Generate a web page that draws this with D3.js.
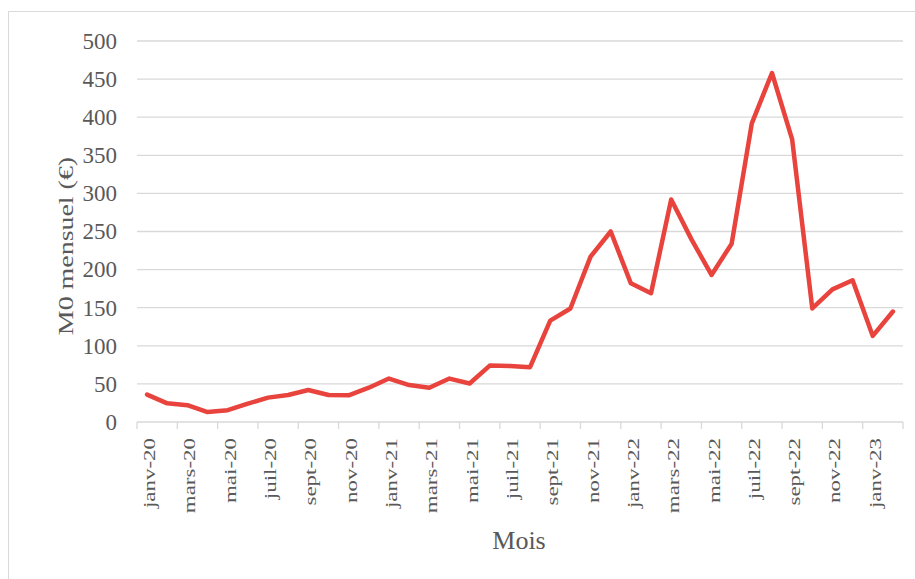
<!DOCTYPE html>
<html>
<head>
<meta charset="utf-8">
<script src="https://cdn.jsdelivr.net/npm/d3@7"></script>
<style>
  html, body { margin: 0; padding: 0; background: #fff; }
  svg { display: block; }
</style>
</head>
<body>
<div id="chart"></div>
<script>
// Données ///////////////////////////////////////////////////////////////////
const mois = [
  'janv-20','févr-20','mars-20','avr-20','mai-20','juin-20','juil-20','août-20','sept-20','oct-20','nov-20','déc-20',
  'janv-21','févr-21','mars-21','avr-21','mai-21','juin-21','juil-21','août-21','sept-21','oct-21','nov-21','déc-21',
  'janv-22','févr-22','mars-22','avr-22','mai-22','juin-22','juil-22','août-22','sept-22','oct-22','nov-22','déc-22',
  'janv-23','févr-23'
];
const m0_mensuel = [
  36, 24.5, 22, 13, 15.5, 24, 32, 35.5, 42, 35.5, 35, 45,
  57, 48.5, 45, 57, 50.5, 74, 73.5, 72, 133, 149, 217, 250,
  182, 169, 292, 240, 193, 234, 392, 458, 371, 149, 174, 186,
  113, 145
];
const y_ticks = [0, 50, 100, 150, 200, 250, 300, 350, 400, 450, 500];

const width = 915, height = 579;
const margin = { top: 41, right: 12, bottom: 157, left: 137 };

const svg = d3.select('#chart').append('svg')
  .attr('width', width)
  .attr('height', height);

// cadre du graphique
svg.append('rect')
  .attr('x', 8.5).attr('y', 11.5)
  .attr('width', width + 20).attr('height', height + 20)
  .attr('fill', 'none')
  .attr('stroke', '#d9d9d9')
  .attr('stroke-width', 1);

const x = d3.scaleBand()
  .domain(mois)
  .range([margin.left, width - margin.right])
  .paddingInner(0).paddingOuter(0);

const y = d3.scaleLinear()
  .domain([0, 500])
  .range([height - margin.bottom, margin.top]);

const grid = svg.append('g').attr('id', 'grille');
const axes = svg.append('g').attr('id', 'axes');
const serie = svg.append('g').attr('id', 'serie');
const titres = svg.append('g').attr('id', 'titres');

// Grille horizontale ////////////////////////////////////////////////////////
grid.selectAll('line')
  .data(y_ticks.filter(d => d > 0))
  .join('line')
  .attr('x1', x.range()[0])
  .attr('x2', x.range()[1])
  .attr('y1', d => y(d))
  .attr('y2', d => y(d))
  .attr('stroke', '#d9d9d9')
  .attr('stroke-width', 1.3);

// Axe Y /////////////////////////////////////////////////////////////////////
const yAxis = axes.append('g')
  .attr('transform', `translate(${margin.left},0)`)
  .call(d3.axisLeft(y).tickValues(y_ticks).tickSize(0).tickPadding(20));
yAxis.select('.domain').remove();
yAxis.selectAll('text')
  .attr('font-family', '"Liberation Serif", "Times New Roman", serif')
  .attr('font-size', 23)
  .attr('fill', '#595959');

// Axe X /////////////////////////////////////////////////////////////////////
const x0 = x.range()[0], x1 = x.range()[1], y0 = y(0);
axes.append('line')
  .attr('x1', x0).attr('x2', x1)
  .attr('y1', y0).attr('y2', y0)
  .attr('stroke', '#d9d9d9')
  .attr('stroke-width', 1.3);

const tick_mois = mois.filter((d, i) => i % 2 === 0);
const tick_pos = tick_mois.map(d => x(d)).concat([x1]);
axes.append('g').selectAll('line')
  .data(tick_pos)
  .join('line')
  .attr('x1', d => d).attr('x2', d => d)
  .attr('y1', y0).attr('y2', y0 + 7)
  .attr('stroke', '#d9d9d9')
  .attr('stroke-width', 1.3);

axes.append('g').selectAll('text')
  .data(tick_mois)
  .join('text')
  .attr('transform', d => `translate(${x(d) + x.bandwidth() / 2 + 8},${y0 + 16}) rotate(-90) scale(1.35,1)`)
  .attr('text-anchor', 'end')
  .attr('font-family', '"Liberation Serif", "Times New Roman", serif')
  .attr('font-size', 17)
  .attr('fill', '#595959')
  .text(d => d);

// Courbe ////////////////////////////////////////////////////////////////////
const line = d3.line()
  .x((d, i) => x(mois[i]) + x.bandwidth() / 2)
  .y(d => y(d));

serie.append('path')
  .datum(m0_mensuel)
  .attr('d', line)
  .attr('fill', 'none')
  .attr('stroke', '#e8433d')
  .attr('stroke-width', 4.5)
  .attr('stroke-linejoin', 'round')
  .attr('stroke-linecap', 'round');

// Titres des axes ///////////////////////////////////////////////////////////
titres.append('text')
  .attr('transform', 'translate(73,246) rotate(-90) scale(1.27,1)')
  .attr('text-anchor', 'middle')
  .attr('font-family', '"Liberation Serif", "Times New Roman", serif')
  .attr('font-size', 22)
  .attr('fill', '#595959')
  .text('M0 mensuel (€)');

titres.append('text')
  .attr('x', 519)
  .attr('y', 549)
  .attr('text-anchor', 'middle')
  .attr('font-family', '"Liberation Serif", "Times New Roman", serif')
  .attr('font-size', 26)
  .attr('fill', '#595959')
  .text('Mois');
</script>
</body>
</html>
